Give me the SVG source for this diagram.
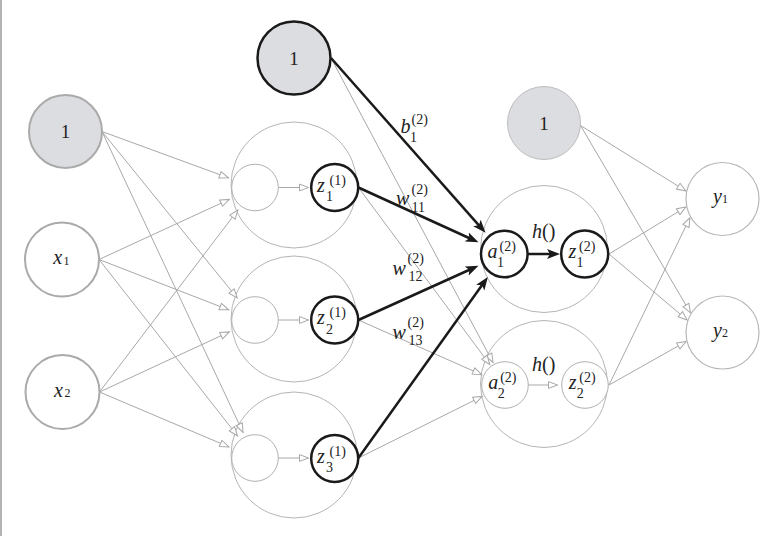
<svg xmlns="http://www.w3.org/2000/svg" width="784" height="536" viewBox="0 0 784 536" font-family="'Liberation Serif', 'DejaVu Serif', serif">
<style>
.bg{fill:#fff}
.big{fill:none;stroke:#b5b5b5;stroke-width:1}
.thin{fill:#fff;stroke:#b0b0b0;stroke-width:1}
.inp{fill:#fff;stroke:#aaaaaa;stroke-width:2}
.bias{fill:#dcdde0;stroke:#aaaaaa;stroke-width:2}
.bias2{fill:#dcdde0;stroke:#bdbdbd;stroke-width:1}
.biasb{fill:#dcdde0;stroke:#1a1a1a;stroke-width:2.5}
.bold{fill:#fff;stroke:#1a1a1a;stroke-width:2.5}
.out{fill:#fff;stroke:#b8b8b8;stroke-width:1.2}
.g{fill:none;stroke:#a8a8a8;stroke-width:1;marker-end:url(#ga)}
.k{fill:none;stroke:#1a1a1a;stroke-width:2.5;marker-end:url(#ka)}
text{font-family:'Liberation Serif','DejaVu Serif',serif;fill:#222}
.m{font-style:italic;font-size:20px}
.n{font-size:19px}
.s{font-size:14px}
.t{font-size:12px}
.up{font-style:normal}
</style>
<defs>
<marker id="ga" markerUnits="userSpaceOnUse" markerWidth="12" markerHeight="10" viewBox="0 0 12 10" refX="10" refY="5" orient="auto">
<path d="M1,1.6 L10,5 L1,8.4 z" fill="#fff" stroke="#a8a8a8" stroke-width="1"/>
</marker>
<marker id="ka" markerUnits="userSpaceOnUse" markerWidth="14" markerHeight="11" viewBox="0 0 14 11" refX="5" refY="5.5" orient="auto">
<path d="M0,0.5 L13,5.5 L0,10.5 L3,5.5 z" fill="#1a1a1a"/>
</marker>
</defs>
<rect class="bg" x="0" y="0" width="784" height="536"/>
<line x1="1" y1="0" x2="1" y2="536" stroke="#9a9a9a" stroke-width="1.5"/>

<g id="layer1-units">
<circle class="big" cx="294" cy="185" r="63"/>
<circle class="big" cx="294" cy="319" r="63"/>
<circle class="big" cx="294" cy="455" r="63"/>
</g>
<g id="layer2-units">
<circle class="big" cx="544" cy="249" r="63.5"/>
<circle class="big" cx="544" cy="384" r="63.5"/>
</g>

<g id="connectors">
<path class="g" d="M102,131.5 L228.4,177.8"/>
<path class="g" d="M102,131.5 L237.2,298"/>
<path class="g" d="M102,131.5 L243,432.4"/>
<path class="g" d="M99,259.5 L229.3,199.4"/>
<path class="g" d="M99,259.5 L228.6,309.8"/>
<path class="g" d="M99,259.5 L237.5,435.8"/>
<path class="g" d="M99.5,392 L237.9,210"/>
<path class="g" d="M99.5,392 L229.3,331.9"/>
<path class="g" d="M99.5,392 L228.9,446.9"/>
<path class="g" d="M278.3,187.5 L308.5,187.5"/>
<path class="g" d="M278.3,320 L308.5,320"/>
<path class="g" d="M278.3,458 L308.5,458"/>
<path class="g" d="M331,58 L493,362.5"/>
<path class="g" d="M358.4,187.5 L489.8,364.5"/>
<path class="g" d="M358.4,320 L481.7,374.7"/>
<path class="g" d="M358.4,458 L482.2,396.4"/>
<path class="k" d="M331,58 L480.25,226.8"/>
<path class="k" d="M358.4,187.5 L471.2,239"/>
<path class="k" d="M358.4,320 L471.2,269"/>
<path class="k" d="M358.4,458 L483.2,283.5"/>
<path class="k" d="M527.6,254 L552,254"/>
<path class="g" d="M528.3,385 L557.5,385"/>
<path class="g" d="M580.5,125.5 L685.9,190.9"/>
<path class="g" d="M580.5,125.5 L690.5,312.9"/>
<path class="g" d="M609,254 L685.9,207"/>
<path class="g" d="M609,254 L687.2,320"/>
<path class="g" d="M609,385 L689.9,217.8"/>
<path class="g" d="M609,385 L686.1,341.5"/>
</g>

<g id="b0">
<circle class="bias" cx="65.5" cy="131.5" r="36.5"/>
<text class="n" x="65.5" y="138" text-anchor="middle">1</text>
</g>
<g id="x1">
<circle class="inp" cx="62" cy="259.5" r="37"/>
<text class="m" x="53.3" y="264">x</text><text class="t" x="63.5" y="264.5">1</text>
</g>
<g id="x2">
<circle class="inp" cx="62.5" cy="392" r="37"/>
<text class="m" x="54" y="396.5">x</text><text class="t" x="64.5" y="397">2</text>
</g>

<g id="a11"><circle class="thin" cx="255" cy="187.5" r="23.3"/></g>
<g id="a12"><circle class="thin" cx="255" cy="320" r="23.3"/></g>
<g id="a13"><circle class="thin" cx="255" cy="458" r="23.3"/></g>

<g id="z11">
<circle class="bold" cx="334.7" cy="187.5" r="23.5"/>
<text class="m" x="317" y="191.5">z</text><text class="s" x="329.5" y="184.5">(1)</text><text class="s" x="326" y="201">1</text>
</g>
<g id="z12">
<circle class="bold" cx="334.7" cy="320" r="23.5"/>
<text class="m" x="317" y="324">z</text><text class="s" x="329.5" y="317">(1)</text><text class="s" x="326" y="333.5">2</text>
</g>
<g id="z13">
<circle class="bold" cx="334.7" cy="458.5" r="23.5"/>
<text class="m" x="317" y="462.5">z</text><text class="s" x="329.5" y="455.5">(1)</text><text class="s" x="326" y="472">3</text>
</g>

<g id="b1">
<circle class="biasb" cx="294" cy="58" r="36.5"/>
<text class="n" x="294" y="64.5" text-anchor="middle">1</text>
</g>

<g id="a21">
<circle class="bold" cx="504.3" cy="254" r="23.3"/>
<text class="m" x="487.5" y="258">a</text><text class="s" x="499.5" y="250.5">(2)</text><text class="s" x="497" y="266.5">1</text>
</g>
<g id="z21">
<circle class="bold" cx="584.7" cy="254" r="23.5"/>
<text class="m" x="568.5" y="258">z</text><text class="s" x="579" y="250.5">(2)</text><text class="s" x="576.5" y="266.5">1</text>
</g>
<g id="a22">
<circle class="thin" cx="505" cy="385" r="23.3"/>
<text class="m" x="488.2" y="389">a</text><text class="s" x="500.2" y="381.5">(2)</text><text class="s" x="497.7" y="397.5">2</text>
</g>
<g id="z22">
<circle class="thin" cx="585" cy="385" r="23.3"/>
<text class="m" x="568.8" y="389">z</text><text class="s" x="579.3" y="381.5">(2)</text><text class="s" x="576.8" y="397.5">2</text>
</g>

<g id="b2">
<circle class="bias2" cx="544" cy="123" r="36.5"/>
<text class="n" x="544" y="129.5" text-anchor="middle">1</text>
</g>

<g id="y1">
<circle class="out" cx="722.5" cy="199" r="36.5"/>
<text class="m" x="713" y="203">y</text><text class="t" x="722" y="203">1</text>
</g>
<g id="y2">
<circle class="out" cx="722.5" cy="332.5" r="36.5"/>
<text class="m" x="713" y="336.5">y</text><text class="t" x="722" y="336.5">2</text>
</g>

<g id="labels">
<text class="m" x="400.5" y="133">b</text><text class="s" x="411.5" y="124">(2)</text><text class="s" x="410" y="142">1</text>
<text class="m" x="396" y="205">w</text><text class="s" x="411.5" y="194">(2)</text><text class="s" x="411.5" y="212">11</text>
<text class="m" x="392.5" y="274.5">w</text><text class="s" x="407.5" y="263">(2)</text><text class="s" x="408.5" y="280.5">12</text>
<text class="m" x="392.5" y="338.5">w</text><text class="s" x="407.5" y="327">(2)</text><text class="s" x="408.5" y="345">13</text>
<text class="m" x="532" y="238">h<tspan class="up">()</tspan></text>
<text class="m" x="532" y="371">h<tspan class="up">()</tspan></text>
</g>
</svg>
